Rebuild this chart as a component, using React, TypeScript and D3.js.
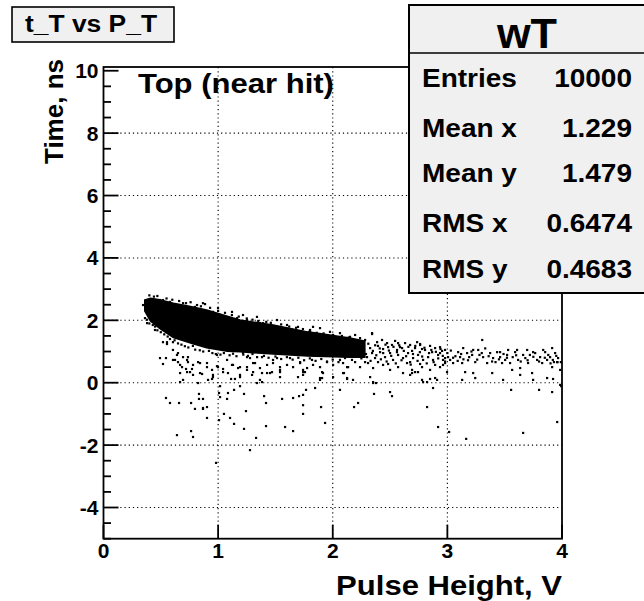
import React from 'react';
import * as d3 from 'd3';

// ---------- data ----------
const xTickValues = [0, 1, 2, 3, 4];
const yTickValues = [-4, -2, 0, 2, 4, 6, 8, 10];
const xGridValues = [1, 2, 3];
const yGridValues = [-4, -2, 0, 2, 4, 6, 8];

const titleText = 't_T vs P_T';
const statsTitle = 'wT';
const statsLabels = ['Entries', 'Mean x', 'Mean y', 'RMS x', 'RMS y'];
const statsValues = ['10000', '1.229', '1.479', '0.6474', '0.4683'];
const panelLabel = 'Top (near hit)';
const xAxisTitle = 'Pulse Height, V';
const yAxisTitle = 'Time, ns';

// dense core of the band (solid black region)
const bandX = [0.36, 0.41, 0.49, 0.61, 0.76, 0.90, 1.08, 1.19, 1.48, 1.78, 2.15, 2.28];
const bandUpper = [2.65, 2.71, 2.66, 2.55, 2.44, 2.33, 2.13, 2.01, 1.85, 1.63, 1.43, 1.33];
const bandLower = [2.30, 1.98, 1.74, 1.45, 1.27, 1.12, 1.01, 0.99, 0.92, 0.86, 0.82, 0.82];

// ragged fringe of the dense core
const coreFringePoints: [number, number][] = [
  [0.45,1.80],[0.47,1.68],[0.50,1.62],[0.53,1.55],[0.56,1.48],[0.58,1.40],[0.62,1.36],[0.65,1.26],[0.68,1.22],[0.71,1.17],[0.74,1.13],[0.78,1.18],[0.80,1.06],[0.84,1.04],[0.87,1.00],[0.92,1.02],[0.95,0.95],[0.98,0.92],[1.02,0.90],[1.05,0.95],[1.10,0.88],[1.13,0.93],[1.16,0.85],[1.22,0.90],[1.26,0.86],[1.30,0.92],[1.34,0.82],[1.40,0.86],[1.44,0.80],[1.50,0.84],[1.55,0.76],[1.60,0.82],[1.65,0.74],[1.70,0.80],[1.75,0.72],[1.80,0.78],[1.85,0.70],[1.90,0.76],[1.95,0.68],[2.00,0.74],[2.05,0.66],[0.38,2.02],[0.40,1.90],[0.43,1.85],
  [0.40,2.80],[0.44,2.76],[0.47,2.78],[0.55,2.70],[0.60,2.66],[0.66,2.62],[0.72,2.55],[0.76,2.58],[0.85,2.45],[0.93,2.40],[1.00,2.30],[1.06,2.24],[1.12,2.17],[1.18,2.12],[1.25,2.06],[1.30,2.02],[1.35,1.98],[1.42,1.95],[1.46,1.92],[1.55,1.87],[1.62,1.80],[1.68,1.76],[1.74,1.72],[1.80,1.66],[1.86,1.60],[1.92,1.58],[2.00,1.52],[2.08,1.50],[2.14,1.45],
];

// points scattered around the dense core
const bandEdgePoints: [number, number][] = [
  [0.345,2.49],[0.362,2.07],[0.380,1.91],[0.449,1.69],[0.519,1.30],[0.554,1.24],[0.606,1.05],[0.650,0.95],[0.694,0.82],[0.737,0.66],[0.781,0.57],[0.825,0.66],[0.903,0.63],[0.947,0.41],[0.999,0.50],[1.043,0.34],[1.121,0.57],[1.174,0.47],[1.191,0.25],[1.252,0.50],[0.624,0.73],[0.668,0.57],[0.729,0.34],[0.781,0.25],[0.842,0.31],
  [0.493,2.65],[0.580,2.59],[0.694,2.55],[0.816,2.49],[0.868,2.55],[0.999,2.39],[1.121,2.27],[1.217,2.17],[0.886,2.52],[0.798,2.43],[0.955,2.27],[1.017,2.17],[0.519,2.65],[1.165,2.07],[1.365,1.91],[1.514,1.79],[1.654,1.69],[1.802,1.63],
  [1.252,2.01],[1.339,2.11],[1.392,1.91],[1.514,2.01],[1.601,1.85],[1.697,1.79],[1.802,1.69],[1.889,1.75],[1.976,1.63],[2.063,1.59],
  [1.217,0.95],[1.278,0.79],[1.322,0.63],[1.383,0.82],[1.427,0.57],[1.479,0.73],[1.540,0.50],[1.627,0.79],[1.715,0.63],[1.741,0.34],[1.819,0.73],[1.889,0.50],[1.950,0.66],[2.003,0.57],[2.063,0.73],[2.125,0.50],[1.305,0.34],[1.453,0.31],[1.383,0.02],[1.540,0.18],[1.889,0.09],[1.697,0.18],
  [0.493,0.79],[0.545,0.79],[0.519,0.60],[0.606,1.30],[0.554,1.30],[0.641,0.89],[0.606,0.73],[0.650,0.66],[0.737,0.82],[0.685,0.50],[0.720,0.44],[0.772,0.44],
  [0.729,0.73],[0.842,0.63],[0.903,0.50],[0.990,0.53],[1.043,0.44],[1.078,0.73],[1.130,0.57],[1.191,0.50],[1.252,0.41],[1.305,0.63],[1.365,0.47],[1.427,0.31],[1.479,0.63],[1.540,0.41],[1.601,0.57],[1.654,0.50],[1.715,0.66],[1.776,0.47],[1.828,0.57],[0.668,0.31],[0.955,0.18],[1.191,0.18],[1.365,0.09],[0.990,0.89],[1.252,0.82],[1.514,0.79],[1.828,1.79],[2.003,1.53],[1.741,0.41],
];

// points close to the zero line
const nearZeroPoints: [number, number][] = [
  [0.668,0.02],[0.694,0.09],[0.825,-0.01],[0.912,0.09],[0.947,0.12],[1.017,-0.11],[1.113,0.12],[1.147,0.12],[1.191,-0.11],[1.339,-0.01],[1.383,0.31],[1.296,0.25],[1.086,0.31],[0.955,0.25],[0.860,0.28],[0.755,0.34],[1.470,0.34],[1.540,0.34],[1.741,0.25],[1.758,0.34],[1.907,0.34],[1.915,0.31],[1.907,0.15],[2.003,0.18],[2.098,0.31],[2.125,0.12],[1.889,0.15],[2.125,0.15],[2.779,0.09],[2.893,0.15],[3.129,0.09],[3.243,0.15],[3.486,0.09],[3.748,0.09],[3.922,0.12],[2.326,0.18],[2.849,0.12],[2.788,0.02],[2.675,0.25],[2.718,0.34],[3.391,0.31],[3.635,0.25],[3.870,0.15],[3.984,-0.07],[2.090,0.31],[2.177,0.09],[2.352,0.02],[2.613,0.31],[2.692,0.31],[2.744,0.34],[2.823,0.02],[2.910,0.09],[2.352,-0.01],[2.378,-0.01],
];

// outliers below zero
const outlierPoints: [number, number][] = [
  [0.545,-0.49],[0.580,-0.65],[0.659,-0.65],[0.764,-0.65],[0.798,-0.84],[0.833,-0.36],[0.833,-0.52],[0.868,-0.52],[0.868,-0.81],[0.868,-0.84],[0.903,-0.78],[0.903,-1.13],[0.641,-1.68],[0.764,-1.55],[0.781,-1.74],[1.008,-0.33],[1.017,-0.46],[1.086,-0.33],[1.078,-0.52],[1.051,-1.00],[1.104,-1.13],[1.139,-1.32],[1.139,-0.23],[1.226,-0.36],[1.243,-0.91],[1.226,-1.48],[1.331,-1.77],[1.278,-2.16],[1.401,-0.43],[1.418,-0.65],[1.418,-1.39],[1.558,-0.52],[1.584,-1.42],[1.654,-1.55],[1.654,-0.49],[1.706,-0.43],[1.741,-0.72],[1.741,-1.00],[1.767,-0.23],[1.846,-0.17],[1.898,-0.78],[1.933,-1.29],[2.063,-0.23],[0.982,-2.57],[1.008,-1.20],[1.741,-0.39],[2.186,-0.78],[2.221,-0.65],[2.360,-0.36],[2.500,-0.30],[2.517,-0.43],[2.823,-0.78],[2.875,-0.17],[2.919,-1.42],[3.015,-1.58],[3.164,-1.80],[3.556,-0.23],[3.661,-1.61],[3.800,-0.23],[3.914,-0.30],[3.958,-1.26],[3.993,-0.11],
];

// sparser tail of the band at high pulse height
const tailPoints: [number, number][] = [
  [2.090,1.43],[2.151,1.47],[2.195,1.53],[2.238,1.43],[2.282,1.37],[2.343,1.56],[2.387,1.30],[2.430,1.37],[2.474,1.27],[2.517,1.21],[2.544,1.34],[2.587,1.14],[2.631,1.27],[2.675,1.21],[2.718,1.11],[2.762,1.24],[2.805,1.05],[2.849,1.18],[2.893,1.11],[2.936,1.14],[2.980,1.05],[2.343,1.59],[2.238,1.30],[2.570,1.27],[2.736,1.30],[2.762,1.21],[3.138,1.11],[3.225,1.05],[3.460,0.98],[3.608,1.05],[3.748,0.98],[3.836,1.05],[3.914,1.11],[3.521,0.89],[3.304,1.37],
  [2.081,0.98],[2.125,0.95],[2.168,1.05],[2.212,0.89],[2.256,0.98],[2.299,0.82],[2.343,0.95],[2.369,0.79],[2.413,0.98],[2.456,0.82],[2.500,0.95],[2.526,0.73],[2.570,0.89],[2.613,0.79],[2.657,0.95],[2.701,0.79],[2.744,0.89],[2.788,0.73],[2.832,0.82],[2.875,0.73],[2.919,0.89],[2.962,0.73],[3.006,0.82],
  [2.090,0.63],[2.134,0.50],[2.195,0.66],[2.238,0.50],[2.308,0.63],[2.352,0.47],[2.439,0.57],[2.500,0.41],[2.570,0.50],[2.648,0.63],[2.692,0.41],[2.779,0.50],[2.849,0.41],[2.936,0.50],[2.997,0.34],
  [2.107,1.21],[2.168,1.27],[2.221,1.14],[2.264,1.21],[2.326,1.11],[2.395,1.18],[2.439,1.08],[2.483,1.14],[2.561,1.05],[2.605,1.11],[2.692,1.02],[2.779,1.08],[2.867,0.98],[2.954,1.02],[2.107,0.79],[2.168,0.73],[2.282,0.66],[2.395,0.66],[2.483,0.60],[2.675,0.66],[2.762,0.60],[2.893,0.57],[2.980,0.63],
  [2.936,0.95],[2.980,0.79],[3.024,0.73],[2.962,0.57],[3.050,0.63],[3.094,0.98],[3.111,0.82],[3.172,0.95],[3.129,0.63],[3.155,0.34],[3.216,0.89],[3.243,0.66],[3.225,0.31],[3.269,1.05],[3.312,0.82],[3.347,0.63],[3.373,0.95],[3.399,0.79],[3.434,0.98],[3.460,0.82],[3.477,0.63],[3.504,0.73],[3.530,1.05],[3.547,0.63],[3.565,0.41],[3.591,0.98],[3.617,0.73],[3.635,0.47],[3.661,0.89],[3.696,1.05],[3.704,0.63],[3.739,0.31],[3.766,0.95],[3.783,0.73],[3.809,0.82],[3.827,0.63],[3.853,0.98],[3.870,0.73],[3.896,0.82],[3.914,0.50],[3.940,0.95],[3.958,0.66],[3.966,0.79],[3.984,0.41],[3.07,0.85],[3.18,0.72],[3.28,0.89],[3.33,1.10],[3.42,0.66],[3.57,0.82],[3.68,0.79],[3.72,0.89],[3.88,0.89],[3.92,0.73],[3.93,0.66],[3.96,0.66],[3.99,0.66],
];

// extra density in the speckled part of the band
const midBandPoints: [number, number][] = [
  [2.20,1.00],[2.23,1.18],[2.25,0.78],[2.27,1.05],[2.29,0.92],[2.31,1.25],[2.33,0.70],[2.35,1.02],[2.37,1.20],[2.38,0.88],[2.41,1.10],[2.42,0.75],[2.44,0.95],[2.46,1.22],[2.47,0.68],[2.49,1.03],[2.51,0.86],[2.53,1.15],[2.55,0.62],[2.56,0.98],[2.58,1.20],[2.60,0.72],[2.62,1.02],[2.64,0.85],[2.66,1.15],[2.68,0.58],[2.70,0.92],[2.72,1.18],[2.74,0.70],[2.76,0.98],[2.78,0.84],[2.80,1.12],[2.82,0.62],[2.84,0.95],[2.86,1.05],[2.88,0.66],[2.90,0.99],[2.92,0.78],[2.94,1.08],[2.96,0.86],[2.98,0.68],[3.00,0.95],[3.03,1.03],[3.05,0.80],[3.09,0.70],[3.12,0.92],[3.14,0.75],[3.19,0.82],[3.21,1.00],[3.26,0.74],[3.30,0.95],[3.36,0.85],[3.39,0.68],[3.45,0.75],[3.49,0.92],[3.52,0.80],[3.60,0.88],[3.64,0.68],[3.70,0.72],[3.75,0.83],[3.80,0.68],[3.85,0.80],[3.90,0.62],[3.95,0.86],
];

// ---------- layout ----------
const W = 644;
const H = 601;
const FRAME = { left: 103.5, right: 562, top: 67, bottom: 538.7 };
const X_DOMAIN: [number, number] = [0, 4];
const Y_DOMAIN: [number, number] = [-5, 10.12];
const FONT = "'Liberation Sans', Arial, Helvetica, sans-serif";
const BOX_FILL = '#f0f0f0';

export default function App() {
  const x = d3.scaleLinear().domain(X_DOMAIN).range([FRAME.left, FRAME.right]);
  const y = d3.scaleLinear().domain(Y_DOMAIN).range([FRAME.bottom, FRAME.top]);

  const yMinor = d3.range(-5, 10.01, 0.5).filter((v) => !yTickValues.includes(v));

  const bandArea = d3
    .area<number>()
    .x((_, i) => x(bandX[i]))
    .y0((_, i) => y(bandLower[i]))
    .y1((_, i) => y(bandUpper[i]))
    .curve(d3.curveLinear);

  const allPoints = [
    ...coreFringePoints,
    ...bandEdgePoints,
    ...nearZeroPoints,
    ...outlierPoints,
    ...tailPoints,
    ...midBandPoints,
  ];
  const dotSize = 2.2;

  const statRowBaselines = [87, 137, 182, 232, 278];

  return (
    <svg
      width={W}
      height={H}
      style={{ position: 'absolute', left: 0, top: 0, background: '#fff' }}
      fontFamily={FONT}
      fontWeight="bold"
    >
      <rect x={0} y={0} width={W} height={H} fill="#fff" />

      {/* grid */}
      <g stroke="#000" strokeWidth={1.1} strokeDasharray="1.2 3">
        {yGridValues.map((v) => (
          <line key={'gy' + v} x1={FRAME.left} x2={FRAME.right} y1={y(v)} y2={y(v)} />
        ))}
        {xGridValues.map((v) => (
          <line key={'gx' + v} x1={x(v)} x2={x(v)} y1={FRAME.top} y2={FRAME.bottom} />
        ))}
      </g>

      {/* data */}
      <path d={bandArea(bandX) || ''} fill="#000" stroke="#000" strokeWidth={1.5} />
      <g fill="#000">
        {allPoints.map((p, i) => (
          <rect key={i} x={x(p[0]) - dotSize / 2} y={y(p[1]) - dotSize / 2} width={dotSize} height={dotSize} />
        ))}
      </g>

      {/* frame */}
      <rect
        x={FRAME.left}
        y={FRAME.top}
        width={FRAME.right - FRAME.left}
        height={FRAME.bottom - FRAME.top}
        fill="none"
        stroke="#000"
        strokeWidth={1.8}
      />

      {/* ticks */}
      <g stroke="#000" strokeWidth={1.8}>
        {yTickValues.map((v) => (
          <line key={'yt' + v} x1={FRAME.left} x2={FRAME.left + 15} y1={y(v)} y2={y(v)} />
        ))}
        {yMinor.map((v) => (
          <line key={'ym' + v} x1={FRAME.left} x2={FRAME.left + 7.5} y1={y(v)} y2={y(v)} />
        ))}
        {xTickValues.map((v) => (
          <line key={'xt' + v} x1={x(v)} x2={x(v)} y1={FRAME.bottom} y2={FRAME.bottom - 14} />
        ))}
      </g>

      {/* tick labels */}
      <g fontSize={21} fill="#000">
        {yTickValues.map((v) => (
          <text key={'yl' + v} x={FRAME.left - 5} y={y(v)} dy="0.36em" textAnchor="end">
            {v}
          </text>
        ))}
        {xTickValues.map((v) => (
          <text key={'xl' + v} x={x(v)} y={558} textAnchor="middle">
            {v}
          </text>
        ))}
      </g>

      {/* axis titles */}
      <text
        transform={`translate(${FRAME.right},595) scale(1.15,1)`}
        textAnchor="end"
        fontSize={27}
        fill="#000"
      >
        {xAxisTitle}
      </text>
      <text transform={`translate(63,59) rotate(-90)`} textAnchor="end" fontSize={26} fill="#000">
        {yAxisTitle}
      </text>

      {/* panel label */}
      <text transform={`translate(138,92.5) scale(1.15,1)`} fontSize={27} fill="#000">
        {panelLabel}
      </text>

      {/* title box */}
      <rect x={12} y={7} width={162} height={35} fill={BOX_FILL} stroke="#000" strokeWidth={1.6} />
      <text transform={`translate(25,32) scale(1.1,1)`} fontSize={24} fill="#000">
        {titleText}
      </text>

      {/* stats box */}
      <rect x={409} y={5} width={250} height={288} fill={BOX_FILL} stroke="#000" strokeWidth={2} />
      <line x1={409} x2={W} y1={53} y2={53} stroke="#000" strokeWidth={1.6} />
      <text transform={`translate(527,48) scale(1.03,1)`} textAnchor="middle" fontSize={42} fill="#000">
        {statsTitle}
      </text>
      {statsLabels.map((lab, i) => (
        <g key={lab}>
          <text transform={`translate(422,${statRowBaselines[i]}) scale(1.12,1)`} fontSize={25} fill="#000">
            {lab}
          </text>
          <text
            transform={`translate(632,${statRowBaselines[i]}) scale(1.12,1)`}
            textAnchor="end"
            fontSize={25}
            fill="#000"
          >
            {statsValues[i]}
          </text>
        </g>
      ))}
    </svg>
  );
}
